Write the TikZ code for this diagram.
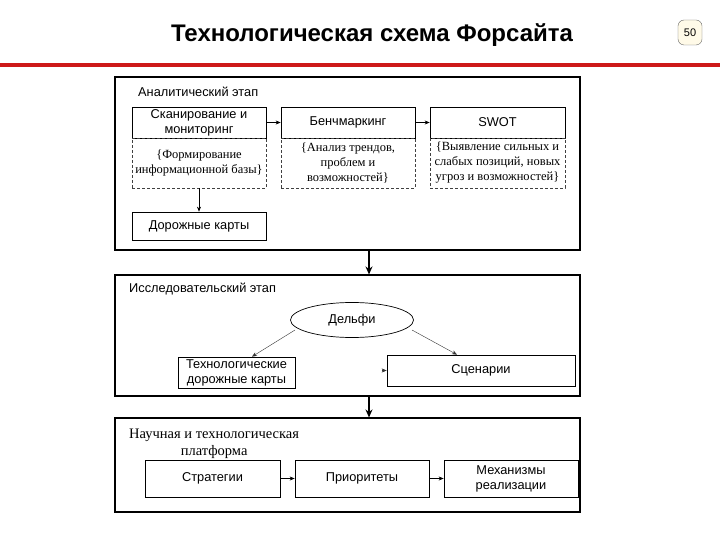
\documentclass[tikz,border=0pt]{standalone}
\usepackage{fontspec}
\setmainfont{Liberation Sans}
\newfontfamily\serifru{Liberation Serif}
\usetikzlibrary{shapes.geometric,arrows.meta,calc}
\definecolor{redline}{RGB}{205,25,25}
\definecolor{badge}{RGB}{255,250,232}
\begin{document}
\begin{tikzpicture}[x=1pt,y=-1pt,
  every node/.style={inner sep=1pt},
  box/.style={draw=black,line width=0.7pt,font=\fontsize{12.8}{15}\selectfont,align=center},
  dbox/.style={draw=black!75,dash pattern=on 3pt off 2pt,line width=0.7pt,font=\serifru\fontsize{12.5}{15}\selectfont,align=center},
  stage/.style={draw=black,line width=1.1pt},
  lbl/.style={font=\fontsize{12.8}{15}\selectfont,anchor=west},
  arr/.style={-{Stealth[length=5pt,width=4pt]},line width=0.6pt},
  bigarr/.style={-{Stealth[length=8pt,width=7pt]},line width=1.6pt},
  thinarr/.style={-{Stealth[length=5pt,width=4pt]},line width=0.4pt,draw=black!80}]
\useasboundingbox (0,0) rectangle (720,540);
% title and header
\node[font=\bfseries\fontsize{24}{28}\selectfont] (title) at (372,35) {Технологическая схема Форсайта};
\node[draw=black!60,fill=badge,rounded corners=6pt,minimum width=24pt,minimum height=25pt,font=\fontsize{11}{13}\selectfont] (page) at (690,32.5) {50};
\draw[redline,line width=4.5pt] (0,65) -- (720,65);
% stage 1
\node[stage,minimum width=465pt,minimum height=173pt] (s1) at (347.5,163.5) {};
\node[lbl] (s1l) at (137,92) {Аналитический этап};
\node[box,minimum width=134pt,minimum height=31pt] (scan) at (199,122.5) {Сканирование и\\мониторинг};
\node[dbox,minimum width=134pt,minimum height=50pt] (scand) at (199,163) {\{Формирование\\информационной базы\}};
\node[box,minimum width=134pt,minimum height=31pt] (bench) at (348,122.5) {Бенчмаркинг};
\node[dbox,minimum width=134pt,minimum height=50pt] (benchd) at (348,163) {\{Анализ трендов,\\проблем и\\возможностей\}};
\node[box,minimum width=135pt,minimum height=31pt] (swot) at (497.5,122.5) {SWOT};
\node[dbox,minimum width=135pt,minimum height=50pt] (swotd) at (497.5,163) {\{Выявление сильных и\\слабых позиций, новых\\угроз и возможностей\}};
\node[box,minimum width=134pt,minimum height=28pt] (dk) at (199,226) {Дорожные карты};
\draw[arr] (scan) -- (bench);
\draw[arr] (bench) -- (swot);
\draw[arr] (scand) -- (dk);
% stage 2
\node[stage,minimum width=465pt,minimum height=121pt] (s2) at (347.5,335.5) {};
\node[lbl] (s2l) at (128,289) {Исследовательский этап};
\node[draw=black,line width=0.7pt,ellipse,minimum width=123pt,minimum height=35pt,inner sep=0pt,font=\fontsize{12.8}{15}\selectfont] (delphi) at (352,320) {Дельфи};
\node[box,minimum width=117pt,minimum height=31pt] (tdk) at (236.5,372.5) {Технологические\\дорожные карты};
\node[box,minimum width=188pt,minimum height=31pt] (scen) at (481,370.5) {Сценарии};
\draw[thinarr] ($(delphi.center)+(-57,10)$) -- ($(tdk.north)+(15.5,0)$);
\draw[thinarr] ($(delphi.center)+(60,10)$) -- ($(scen.north)+(-24,0)$);
\draw[thinarr] ($(scen.west)+(-5,0)$) -- (scen.west);
% stage 3
\node[stage,minimum width=465pt,minimum height=94pt] (s3) at (347.5,465) {};
\node[font=\serifru\fontsize{14.5}{17}\selectfont,align=center,anchor=west] (s3l) at (128,444) {Научная и технологическая\\платформа};
\node[box,minimum width=135pt,minimum height=37pt] (strat) at (212.5,478.5) {Стратегии};
\node[box,minimum width=134pt,minimum height=37pt] (prio) at (362,478.5) {Приоритеты};
\node[box,minimum width=134pt,minimum height=37pt] (mech) at (511,478.5) {Механизмы\\реализации};
\draw[arr] (strat) -- (prio);
\draw[arr] (prio) -- (mech);
% stage arrows
\coordinate (c1) at (369,250);
\coordinate (c2) at (369,396);
\draw[bigarr] (c1) -- (c1 |- s2.north);
\draw[bigarr] (c2) -- (c2 |- s3.north);
\end{tikzpicture}
\end{document}
